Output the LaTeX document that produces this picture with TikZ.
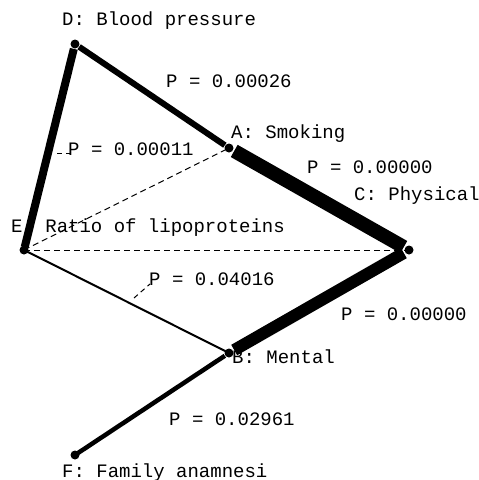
\documentclass[tikz,border=0pt]{standalone}
\usepackage{fontspec}
\setmonofont{Liberation Mono}
\usepackage{tikz}
\usetikzlibrary{calc}

\tikzset{
  vardot/.style={circle, fill=black, inner sep=0pt, minimum size=9pt},
  varlabel/.style={anchor=base west, inner sep=0pt, font=\ttfamily\fontsize{19}{22}\selectfont},
  weaklink/.style={line width=1pt, dash pattern=on 6pt off 4pt},
  leader/.style={line width=1pt, dash pattern=on 5pt off 4pt}
}

\begin{document}
\begin{tikzpicture}[x=1pt, y=-1pt]
  \useasboundingbox (0,0) rectangle (479,480);

  % variables
  \node[vardot] (D) at (75,44) {};
  \node[vardot] (A) at (229,148) {};
  \node[vardot] (C) at (409,250) {};
  \node[vardot] (E) at (24,250) {};
  \node[vardot] (B) at (229,353) {};
  \node[vardot] (F) at (75,455) {};

  % links, width by strength
  \draw[weaklink] (E.center) -- (A.center);
  \draw[weaklink] (E.center) -- (C.center);
  \draw[line width=8pt, shorten <=5pt, shorten >=3pt] (D.center) -- (E.center);
  \draw[line width=6pt, shorten <=5pt, shorten >=5pt] (D.center) -- (A.center);
  \draw[line width=14pt, shorten <=6pt, shorten >=6pt] (A.center) -- (C.center);
  \draw[line width=12pt, shorten <=6pt, shorten >=6pt] (C.center) -- (B.center);
  \draw[line width=2pt] (E.center) -- (B.center);
  \draw[line width=4.5pt, shorten <=5pt] (B.center) -- (F.center);

  % names
  \node[varlabel] (labD) at (62,25) {D: Blood pressure};
  \node[varlabel] (labA) at (231,138) {A: Smoking};
  \node[varlabel] (labC) at (354,200) {C: Physical};
  \node[varlabel] (labE) at (11,232) {E: Ratio of lipoproteins};
  \node[varlabel] (labB) at (232,363) {B: Mental};
  \node[varlabel] (labF) at (62,477) {F: Family anamnesi};

  % p-values
  \node[varlabel] (pDA) at (166,87) {P = 0.00026};
  \node[varlabel] (pDE) at (68,155) {P = 0.00011};
  \node[varlabel] (pAC) at (307,173) {P = 0.00000};
  \node[varlabel] (pEB) at (149,285) {P = 0.04016};
  \node[varlabel] (pCB) at (341,320) {P = 0.00000};
  \node[varlabel] (pBF) at (169,425) {P = 0.02961};

  % leaders
  \coordinate (tipDE) at (57,153);
  \coordinate (tipEB) at (134,298);
  \draw[leader] (tipDE) -- ($(pDE.base west)+(2,-2)$);
  \draw[leader] (tipEB) -- ($(pEB.base west)+(1,-1)$);
\end{tikzpicture}
\end{document}
